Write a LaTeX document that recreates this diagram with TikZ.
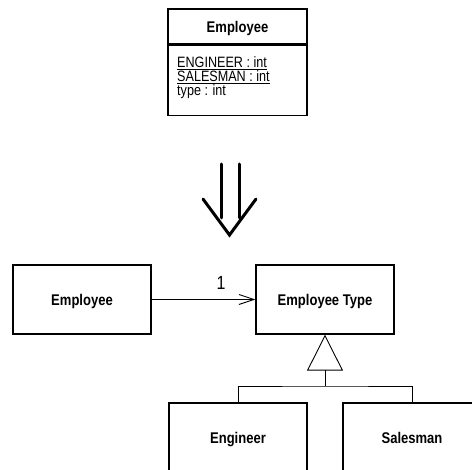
\documentclass[tikz,border=0pt]{standalone}
\usepackage{fontspec}
\setmainfont{Liberation Sans}[FakeStretch=0.84]
\usetikzlibrary{arrows.meta}
\begin{document}
\begin{tikzpicture}[x=1pt,y=-1pt,
  every node/.style={font=\fontsize{15}{13.8}\selectfont},
  classbox/.style={draw, line width=1.3pt, minimum width=138pt, minimum height=69pt,
    inner sep=0pt, text height=12pt, text depth=0pt,
    font=\fontsize{15.5}{14}\selectfont\bfseries},
  thin/.style={line width=0.9pt}
]
\useasboundingbox (0,0) rectangle (472,470);
\clip (0,0) rectangle (472,470);

% class with constants and a type code
\node[draw, line width=1.2pt, minimum width=139pt, minimum height=35pt, inner sep=0pt,
      text height=12.5pt, text depth=0pt,
      font=\fontsize{15.5}{14}\selectfont\bfseries] (hdr) at (237.5,26.5) {Employee};
\node[draw, line width=1.2pt, minimum width=139pt, minimum height=70pt, inner sep=0pt,
      anchor=north] (attrs) at (hdr.south) {};
\node[anchor=north west, align=left, inner sep=0pt] (attrtext) at (177,56.5)
  {\underline{ENGINEER : int}\\\underline{SALESMAN : int}\\type : int};

% refactoring arrow
\draw[line width=3pt, line cap=round] (221,164) -- (221,218);
\draw[line width=3pt, line cap=round] (239,164) -- (239,218);
\draw[line width=3pt, line cap=round, line join=miter] (203,199) -- (229.5,235) -- (256,199);

% state/strategy classes
\node[classbox] (emp) at (82,299.5) {Employee};
\node[classbox] (etype) at (325,299.5) {Employee Type};
\node[classbox] (eng) at (238,437.5) {Engineer};
\node[classbox] (sales) at (412,437.5) {Salesman};

\draw[thin, -{Straight Barb[length=15pt,width=10pt,line width=0.9pt]}]
  (emp.east) -- node[above=6pt, pos=0.67, font=\fontsize{19}{19}\selectfont] {1} (etype.west);

\coordinate (junction) at (325,386);
\draw[thin, -{Triangle[open,length=36pt,width=36pt,line width=0.9pt]}]
  (junction) -- (etype.south);
\draw[thin] (eng.north) |- (junction) -| (sales.north);
\end{tikzpicture}
\end{document}
